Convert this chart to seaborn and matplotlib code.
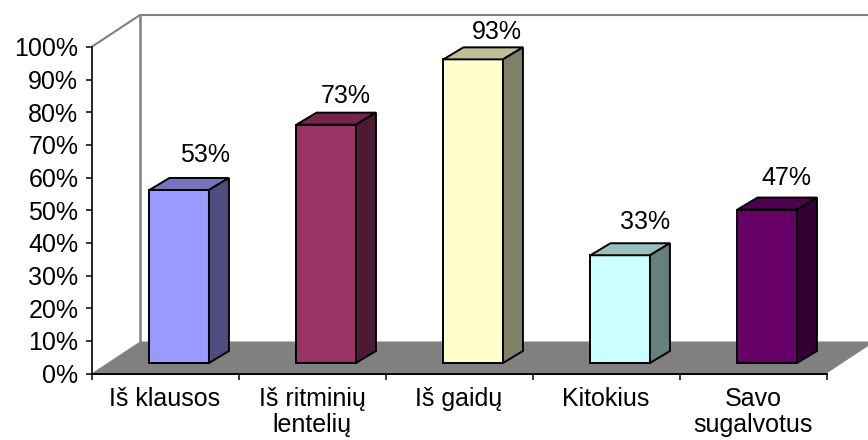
import pandas as pd
import matplotlib.pyplot as plt
import matplotlib.colors as mcolors
from matplotlib.patches import Polygon
import seaborn as sns

categories = ["Iš klausos", "Iš ritminių\nlentelių", "Iš gaidų", "Kitokius", "Savo\nsugalvotus"]
values = [53, 73, 93, 33, 47]
bar_colors = ["#9999FF", "#993366", "#FFFFCC", "#CCFFFF", "#660066"]
y_ticks = [0, 10, 20, 30, 40, 50, 60, 70, 80, 90, 100]

# nudges of each value label, in pixels, from the back of its bar
label_nudges = [(0, 1), (-6, 7), (-2, 9), (-1, 3), (-7, 4)]

sns.set_style("white")
plt.rcParams["font.family"] = ["Liberation Sans", "DejaVu Sans"]

df = pd.DataFrame({"category": categories, "value": values})

W, H = 868, 440
fig = plt.figure(figsize=(W / 100, H / 100), dpi=100)
ax = fig.add_axes([91.5 / W, (H - 373.5) / H, 735 / W, 326.5 / H])
ax.patch.set_alpha(0)

sns.barplot(data=df, x="category", y="value", hue="category", palette=bar_colors,
            width=59.5 / 147, saturation=1, edgecolor="black", linewidth=1.4,
            legend=False, ax=ax, zorder=3)
bars = sorted(ax.patches, key=lambda p: p.get_x())

ax.set_xlim(-0.5, 4.5)
ax.set_ylim(0, 100)

# pixel sizes in data units
px_x = 5 / 735
px_y = 100 / 326.5

# floor and back walls of the 3d box
depth_x = 48.5 * px_x
depth_y = 32 * px_y
ax.add_patch(Polygon([(-0.5, 0), (4.5, 0), (4.5 + depth_x, depth_y), (-0.5 + depth_x, depth_y)],
                     closed=True, color="#808080", lw=0, clip_on=False, zorder=1))
wall_x = [-0.5, -0.5 + depth_x, 4.5 + depth_x]
wall_y = [100, 100 + depth_y, 100 + depth_y]
ax.plot(wall_x, wall_y, color="#808080", lw=1.5, clip_on=False, zorder=1)
ax.plot([-0.5 + depth_x] * 2, [depth_y, 100 + depth_y], color="#808080", lw=1.8, clip_on=False, zorder=1)

# bars sit part way into the floor, top and side faces added by hand
bar_dx = 20 * px_x
bar_dy = 12 * px_y
for i, bar in enumerate(bars):
    bar.set_x(bar.get_x() + 14.2 * px_x)
    bar.set_y(10.5 * px_y)
    bar.set_clip_on(False)
    x0 = bar.get_x()
    x1 = x0 + bar.get_width()
    y0 = bar.get_y()
    y1 = y0 + bar.get_height()
    rgb = mcolors.to_rgb(bar_colors[i])
    top_color = tuple(c * 0.75 for c in rgb)
    side_color = tuple(c * 0.5 for c in rgb)
    ax.add_patch(Polygon([(x0, y1), (x1, y1), (x1 + bar_dx, y1 + bar_dy), (x0 + bar_dx, y1 + bar_dy)],
                         closed=True, fc=top_color, ec="black", lw=1.4, zorder=3, clip_on=False))
    ax.add_patch(Polygon([(x1, y0), (x1 + bar_dx, y0 + bar_dy), (x1 + bar_dx, y1 + bar_dy), (x1, y1)],
                         closed=True, fc=side_color, ec="black", lw=1.4, zorder=3, clip_on=False))
    nudge = label_nudges[i]
    ax.annotate(f"{values[i]}%", xy=((x0 + x1) / 2, y1), xytext=(26 + nudge[0], 37 - nudge[1] - 1),
                textcoords="offset pixels", ha="center", va="center", fontsize=18,
                color="black", annotation_clip=False, zorder=4)

sns.despine(ax=ax, top=True, right=True)
ax.spines["left"].set_color("black")
ax.spines["bottom"].set_color("black")
ax.spines["left"].set_linewidth(1.2)
ax.spines["bottom"].set_linewidth(1.4)
ax.spines["bottom"].set_zorder(5)

ax.set_xlabel("")
ax.set_ylabel("")
ax.set_yticks(y_ticks)
ax.set_yticklabels([f"{t}%" for t in y_ticks], fontsize=18, color="black")
ax.set_xticks(range(len(categories)))
ax.set_xticklabels(categories, fontsize=18, linespacing=1.1, va="top", color="black")
ax.set_xticks([i - 0.5 for i in range(len(categories) + 1)], minor=True)
ax.tick_params(axis="y", which="major", left=True, length=4, width=1.1, color="black", pad=5.5)
ax.tick_params(axis="x", which="major", bottom=False, length=0, pad=10)
ax.tick_params(axis="x", which="minor", bottom=True, length=4, width=1.1, color="black")

fig.savefig("out.png", dpi=100)
